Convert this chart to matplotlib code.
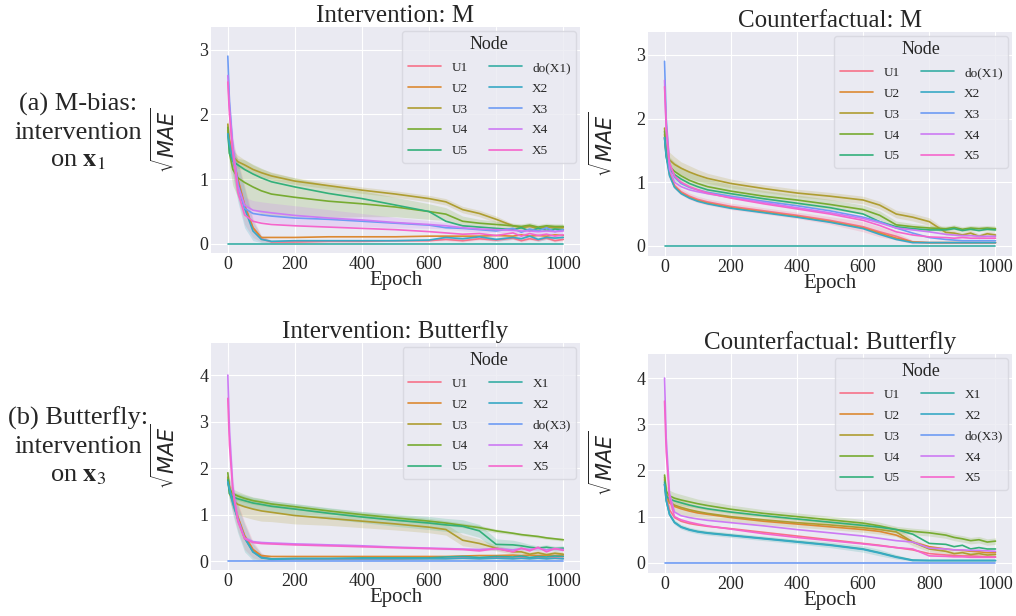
import matplotlib
matplotlib.use("Agg")
import matplotlib.pyplot as plt
import seaborn as sns

plt.style.use("seaborn-v0_8-darkgrid")
plt.rcParams["font.family"] = ["Liberation Serif", "DejaVu Serif"]
plt.rcParams["mathtext.fontset"] = "dejavusans"

EPOCHS = [0, 5, 15, 30, 50, 75, 100, 130, 200, 300, 400, 500, 600, 650,
          700, 750, 800, 850, 875, 900, 925, 950, 975, 1000]

LABELS_M = ["U1", "U2", "U3", "U4", "U5", "do(X1)", "X2", "X3", "X4", "X5"]
LABELS_B = ["U1", "U2", "U3", "U4", "U5", "X1", "X2", "do(X3)", "X4", "X5"]

# ---- Intervention: M ----
INT_M = {
    "U1": [1.75, 1.6, 1.35, 1.0, 0.6, 0.25, 0.08, 0.03, 0.03, 0.04, 0.04, 0.05, 0.05, 0.07, 0.05, 0.08, 0.06, 0.09, 0.05, 0.08, 0.06, 0.09, 0.05, 0.07],
    "U2": [1.75, 1.6, 1.35, 1.0, 0.6, 0.25, 0.1, 0.1, 0.1, 0.11, 0.11, 0.11, 0.12, 0.12, 0.12, 0.12, 0.13, 0.12, 0.14, 0.12, 0.13, 0.12, 0.14, 0.13],
    "U3": [1.85, 1.5, 1.35, 1.27, 1.22, 1.15, 1.1, 1.05, 0.97, 0.9, 0.83, 0.77, 0.7, 0.65, 0.53, 0.47, 0.38, 0.28, 0.25, 0.27, 0.24, 0.26, 0.25, 0.25],
    "U4": [1.8, 1.4, 1.15, 1.02, 0.95, 0.88, 0.82, 0.77, 0.72, 0.66, 0.62, 0.57, 0.5, 0.46, 0.35, 0.32, 0.3, 0.28, 0.27, 0.29, 0.26, 0.28, 0.27, 0.27],
    "U5": [1.7, 1.4, 1.28, 1.22, 1.15, 1.08, 1.02, 0.96, 0.88, 0.78, 0.7, 0.6, 0.5, 0.35, 0.28, 0.26, 0.24, 0.22, 0.25, 0.2, 0.24, 0.21, 0.23, 0.22],
    "do(X1)": [0.0] * 24,
    "X2": [1.7, 1.55, 1.3, 0.95, 0.55, 0.2, 0.07, 0.04, 0.05, 0.05, 0.05, 0.05, 0.06, 0.1, 0.08, 0.11, 0.07, 0.1, 0.08, 0.12, 0.07, 0.1, 0.09, 0.1],
    "X3": [2.9, 2.2, 1.5, 0.9, 0.55, 0.47, 0.45, 0.43, 0.4, 0.38, 0.35, 0.32, 0.29, 0.25, 0.24, 0.22, 0.2, 0.24, 0.18, 0.23, 0.2, 0.25, 0.19, 0.22],
    "X4": [2.6, 2.1, 1.5, 0.9, 0.6, 0.52, 0.5, 0.48, 0.44, 0.4, 0.37, 0.33, 0.3, 0.28, 0.25, 0.23, 0.22, 0.21, 0.2, 0.2, 0.19, 0.2, 0.19, 0.2],
    "X5": [2.5, 2.0, 1.4, 0.8, 0.45, 0.35, 0.32, 0.3, 0.28, 0.26, 0.24, 0.22, 0.19, 0.17, 0.15, 0.16, 0.13, 0.17, 0.12, 0.16, 0.13, 0.15, 0.12, 0.14],
}
INT_M_SPREAD = {
    "U1": [0.15, 0.2, 0.25, 0.3, 0.3, 0.15, 0.05, 0.02, 0.01, 0.01, 0.01, 0.01, 0.01, 0.02, 0.02, 0.02, 0.02, 0.02, 0.02, 0.02, 0.02, 0.02, 0.02, 0.02],
    "U3": [0.1, 0.1, 0.1, 0.1, 0.08, 0.07, 0.06, 0.06, 0.05, 0.05, 0.05, 0.05, 0.05, 0.05, 0.05, 0.05, 0.05, 0.03, 0.03, 0.03, 0.03, 0.03, 0.03, 0.03],
    "U4": [0.15, 0.2, 0.25, 0.3, 0.35, 0.35, 0.35, 0.33, 0.3, 0.25, 0.2, 0.15, 0.12, 0.1, 0.08, 0.06, 0.05, 0.04, 0.04, 0.04, 0.04, 0.04, 0.04, 0.04],
    "X2": [0.15, 0.2, 0.25, 0.3, 0.3, 0.15, 0.05, 0.02, 0.01, 0.01, 0.01, 0.01, 0.01, 0.03, 0.03, 0.03, 0.03, 0.03, 0.03, 0.03, 0.03, 0.03, 0.03, 0.03],
    "X4": [0.2, 0.2, 0.2, 0.15, 0.12, 0.15, 0.15, 0.15, 0.15, 0.13, 0.1, 0.08, 0.06, 0.05, 0.05, 0.05, 0.04, 0.04, 0.04, 0.04, 0.04, 0.04, 0.04, 0.04],
}

# ---- Counterfactual: M ----
CF_M = {
    "U1": [1.7, 1.45, 1.15, 0.95, 0.85, 0.78, 0.73, 0.69, 0.62, 0.55, 0.48, 0.4, 0.3, 0.22, 0.15, 0.06, 0.05, 0.05, 0.05, 0.05, 0.05, 0.05, 0.05, 0.05],
    "U2": [1.75, 1.45, 1.12, 0.93, 0.83, 0.76, 0.71, 0.67, 0.6, 0.53, 0.46, 0.38, 0.28, 0.2, 0.12, 0.06, 0.05, 0.05, 0.05, 0.05, 0.05, 0.05, 0.05, 0.05],
    "U3": [1.85, 1.5, 1.35, 1.28, 1.22, 1.16, 1.11, 1.06, 0.98, 0.9, 0.83, 0.78, 0.72, 0.64, 0.5, 0.45, 0.38, 0.21, 0.2, 0.17, 0.2, 0.15, 0.19, 0.17],
    "U4": [1.8, 1.45, 1.25, 1.17, 1.1, 1.03, 0.98, 0.93, 0.86, 0.78, 0.72, 0.65, 0.57, 0.48, 0.33, 0.3, 0.28, 0.27, 0.29, 0.26, 0.28, 0.27, 0.28, 0.27],
    "U5": [1.7, 1.4, 1.2, 1.12, 1.05, 0.98, 0.93, 0.88, 0.82, 0.74, 0.67, 0.6, 0.5, 0.38, 0.3, 0.27, 0.25, 0.25, 0.27, 0.24, 0.26, 0.24, 0.26, 0.25],
    "do(X1)": [0.0] * 24,
    "X2": [1.7, 1.4, 1.1, 0.92, 0.82, 0.75, 0.7, 0.66, 0.59, 0.52, 0.45, 0.37, 0.27, 0.18, 0.1, 0.05, 0.05, 0.05, 0.05, 0.05, 0.05, 0.05, 0.05, 0.05],
    "X3": [2.9, 2.0, 1.3, 1.08, 0.98, 0.92, 0.88, 0.84, 0.78, 0.7, 0.63, 0.55, 0.45, 0.38, 0.28, 0.2, 0.13, 0.1, 0.09, 0.08, 0.08, 0.08, 0.08, 0.08],
    "X4": [2.6, 1.8, 1.2, 1.0, 0.93, 0.88, 0.85, 0.82, 0.76, 0.68, 0.6, 0.52, 0.43, 0.36, 0.28, 0.25, 0.22, 0.18, 0.17, 0.16, 0.16, 0.15, 0.15, 0.15],
    "X5": [2.5, 1.9, 1.3, 1.1, 1.0, 0.93, 0.88, 0.83, 0.75, 0.66, 0.58, 0.5, 0.4, 0.32, 0.22, 0.17, 0.14, 0.13, 0.12, 0.13, 0.12, 0.12, 0.12, 0.12],
}
CF_M_SPREAD = {
    "U1": [0.1, 0.08, 0.06, 0.05, 0.05, 0.05, 0.05, 0.05, 0.05, 0.05, 0.05, 0.06, 0.08, 0.08, 0.06, 0.03, 0.01, 0.01, 0.01, 0.01, 0.01, 0.01, 0.01, 0.01],
    "U3": [0.1, 0.12, 0.12, 0.12, 0.1, 0.1, 0.09, 0.08, 0.07, 0.06, 0.06, 0.06, 0.06, 0.06, 0.06, 0.06, 0.06, 0.04, 0.04, 0.04, 0.04, 0.04, 0.04, 0.04],
    "U4": [0.1, 0.12, 0.15, 0.15, 0.14, 0.13, 0.12, 0.12, 0.1, 0.09, 0.08, 0.08, 0.07, 0.07, 0.06, 0.05, 0.04, 0.04, 0.04, 0.04, 0.04, 0.04, 0.04, 0.04],
}

# ---- Intervention: Butterfly ----
INT_B = {
    "U1": [1.8, 1.6, 1.3, 0.95, 0.55, 0.25, 0.1, 0.04, 0.05, 0.05, 0.05, 0.05, 0.06, 0.06, 0.07, 0.06, 0.08, 0.06, 0.07, 0.06, 0.08, 0.06, 0.07, 0.06],
    "U2": [1.8, 1.6, 1.3, 0.95, 0.55, 0.25, 0.12, 0.1, 0.1, 0.1, 0.1, 0.1, 0.1, 0.1, 0.11, 0.12, 0.12, 0.13, 0.12, 0.13, 0.12, 0.13, 0.12, 0.13],
    "U3": [1.8, 1.45, 1.3, 1.22, 1.17, 1.12, 1.08, 1.05, 0.98, 0.92, 0.86, 0.8, 0.73, 0.68, 0.45, 0.38, 0.28, 0.2, 0.2, 0.15, 0.18, 0.14, 0.17, 0.15],
    "U4": [1.9, 1.55, 1.45, 1.4, 1.35, 1.3, 1.27, 1.23, 1.17, 1.08, 1.0, 0.93, 0.86, 0.82, 0.77, 0.72, 0.65, 0.6, 0.57, 0.55, 0.53, 0.5, 0.48, 0.46],
    "U5": [1.75, 1.45, 1.38, 1.34, 1.3, 1.25, 1.22, 1.18, 1.12, 1.03, 0.95, 0.88, 0.82, 0.78, 0.75, 0.65, 0.36, 0.35, 0.33, 0.3, 0.28, 0.3, 0.27, 0.28],
    "X1": [1.7, 1.55, 1.25, 0.9, 0.5, 0.2, 0.08, 0.05, 0.06, 0.06, 0.07, 0.07, 0.07, 0.09, 0.1, 0.08, 0.1, 0.09, 0.11, 0.08, 0.1, 0.09, 0.11, 0.1],
    "X2": [1.7, 1.55, 1.25, 0.9, 0.5, 0.2, 0.07, 0.04, 0.05, 0.05, 0.05, 0.05, 0.05, 0.05, 0.06, 0.05, 0.06, 0.05, 0.06, 0.05, 0.06, 0.05, 0.06, 0.05],
    "do(X3)": [0.0] * 24,
    "X4": [4.0, 2.8, 1.6, 0.9, 0.5, 0.42, 0.4, 0.39, 0.37, 0.35, 0.33, 0.3, 0.28, 0.27, 0.26, 0.25, 0.27, 0.24, 0.27, 0.25, 0.28, 0.24, 0.27, 0.25],
    "X5": [3.5, 2.5, 1.5, 0.85, 0.48, 0.4, 0.38, 0.37, 0.35, 0.33, 0.31, 0.29, 0.27, 0.26, 0.25, 0.22, 0.27, 0.2, 0.28, 0.22, 0.3, 0.2, 0.27, 0.23],
}
INT_B_SPREAD = {
    "U1": [0.15, 0.2, 0.25, 0.3, 0.3, 0.18, 0.08, 0.03, 0.01, 0.01, 0.01, 0.01, 0.01, 0.02, 0.02, 0.02, 0.02, 0.02, 0.02, 0.02, 0.02, 0.02, 0.02, 0.02],
    "U3": [0.1, 0.15, 0.2, 0.22, 0.22, 0.22, 0.22, 0.2, 0.18, 0.15, 0.14, 0.13, 0.12, 0.12, 0.12, 0.1, 0.06, 0.05, 0.05, 0.05, 0.05, 0.05, 0.05, 0.05],
    "U4": [0.1, 0.1, 0.1, 0.1, 0.09, 0.08, 0.08, 0.07, 0.06, 0.06, 0.06, 0.06, 0.06, 0.05, 0.05, 0.05, 0.04, 0.03, 0.03, 0.03, 0.03, 0.03, 0.03, 0.03],
    "U5": [0.1, 0.1, 0.1, 0.12, 0.12, 0.12, 0.12, 0.12, 0.12, 0.12, 0.12, 0.13, 0.14, 0.14, 0.14, 0.14, 0.12, 0.1, 0.08, 0.06, 0.05, 0.05, 0.05, 0.05],
    "X1": [0.15, 0.2, 0.25, 0.3, 0.3, 0.18, 0.08, 0.03, 0.01, 0.01, 0.01, 0.01, 0.01, 0.02, 0.02, 0.02, 0.02, 0.02, 0.02, 0.02, 0.02, 0.02, 0.02, 0.02],
    "X4": [0.4, 0.3, 0.2, 0.1, 0.05, 0.03, 0.03, 0.03, 0.03, 0.03, 0.03, 0.03, 0.03, 0.03, 0.03, 0.03, 0.04, 0.04, 0.04, 0.04, 0.04, 0.04, 0.04, 0.04],
}

# ---- Counterfactual: Butterfly ----
CF_B = {
    "U1": [1.7, 1.45, 1.15, 0.98, 0.9, 0.85, 0.82, 0.79, 0.74, 0.66, 0.58, 0.5, 0.42, 0.38, 0.33, 0.28, 0.2, 0.17, 0.16, 0.15, 0.15, 0.14, 0.13, 0.13],
    "U2": [1.8, 1.5, 1.3, 1.22, 1.17, 1.12, 1.08, 1.05, 0.98, 0.9, 0.84, 0.78, 0.72, 0.68, 0.6, 0.45, 0.35, 0.3, 0.28, 0.27, 0.25, 0.24, 0.22, 0.22],
    "U3": [1.85, 1.5, 1.32, 1.25, 1.2, 1.15, 1.11, 1.07, 1.0, 0.93, 0.87, 0.82, 0.76, 0.72, 0.67, 0.45, 0.3, 0.25, 0.2, 0.22, 0.18, 0.2, 0.17, 0.18],
    "U4": [1.9, 1.55, 1.45, 1.4, 1.36, 1.32, 1.28, 1.24, 1.16, 1.07, 1.0, 0.93, 0.86, 0.8, 0.72, 0.68, 0.65, 0.6, 0.55, 0.52, 0.48, 0.5, 0.45, 0.47],
    "U5": [1.75, 1.45, 1.38, 1.34, 1.3, 1.25, 1.21, 1.17, 1.1, 1.02, 0.95, 0.88, 0.81, 0.77, 0.72, 0.62, 0.42, 0.4, 0.35, 0.38, 0.3, 0.33, 0.3, 0.3],
    "X1": [1.7, 1.35, 1.05, 0.88, 0.78, 0.72, 0.68, 0.65, 0.6, 0.53, 0.46, 0.39, 0.3, 0.22, 0.13, 0.06, 0.05, 0.05, 0.05, 0.05, 0.05, 0.05, 0.05, 0.05],
    "X2": [1.7, 1.35, 1.05, 0.87, 0.77, 0.71, 0.67, 0.64, 0.59, 0.52, 0.45, 0.38, 0.29, 0.21, 0.12, 0.05, 0.05, 0.05, 0.05, 0.05, 0.05, 0.05, 0.05, 0.05],
    "do(X3)": [0.0] * 24,
    "X4": [4.0, 2.7, 1.5, 1.1, 1.02, 0.98, 0.95, 0.92, 0.87, 0.8, 0.72, 0.65, 0.58, 0.53, 0.48, 0.45, 0.32, 0.3, 0.28, 0.28, 0.27, 0.27, 0.26, 0.25],
    "X5": [3.5, 2.4, 1.4, 1.0, 0.93, 0.88, 0.84, 0.8, 0.73, 0.63, 0.55, 0.48, 0.41, 0.37, 0.33, 0.3, 0.15, 0.14, 0.13, 0.13, 0.12, 0.12, 0.12, 0.12],
}
CF_B_SPREAD = {
    "U3": [0.1, 0.12, 0.15, 0.15, 0.15, 0.14, 0.13, 0.12, 0.11, 0.1, 0.1, 0.1, 0.1, 0.1, 0.1, 0.08, 0.06, 0.05, 0.05, 0.05, 0.05, 0.05, 0.05, 0.05],
    "U4": [0.1, 0.12, 0.12, 0.12, 0.12, 0.11, 0.1, 0.1, 0.09, 0.08, 0.08, 0.08, 0.08, 0.08, 0.07, 0.07, 0.07, 0.07, 0.07, 0.07, 0.07, 0.07, 0.07, 0.07],
    "X1": [0.1, 0.08, 0.06, 0.05, 0.05, 0.05, 0.05, 0.05, 0.05, 0.05, 0.05, 0.06, 0.07, 0.07, 0.05, 0.02, 0.01, 0.01, 0.01, 0.01, 0.01, 0.01, 0.01, 0.01],
}

PANELS = [
    ("Intervention: M", INT_M, INT_M_SPREAD, LABELS_M, (-0.14, 3.35),
     [0.2077, 0.5893, 0.3632, 0.3669], [0, 1, 2, 3]),
    ("Counterfactual: M", CF_M, CF_M_SPREAD, LABELS_M, (-0.16, 3.36),
     [0.6378, 0.5844, 0.3583, 0.3636], [0, 1, 2, 3]),
    ("Intervention: Butterfly", INT_B, INT_B_SPREAD, LABELS_B, (-0.19, 4.69),
     [0.2077, 0.0747, 0.3632, 0.3685], [0, 1, 2, 3, 4]),
    ("Counterfactual: Butterfly", CF_B, CF_B_SPREAD, LABELS_B, (-0.22, 4.52),
     [0.6378, 0.0698, 0.3583, 0.3555], [0, 1, 2, 3, 4]),
]

colors = sns.color_palette("husl", 10)

fig = plt.figure(figsize=(10.16, 6.16), dpi=100)

for title, means, spreads, labels, ylim, rect, yticks in PANELS:
    ax = fig.add_axes(rect)
    for i, lab in enumerate(labels):
        y = means[lab]
        if lab in spreads:
            lo = [m - s for m, s in zip(y, spreads[lab])]
            hi = [m + s for m, s in zip(y, spreads[lab])]
            ax.fill_between(EPOCHS, lo, hi, color=colors[i], alpha=0.2, lw=0)
        ax.plot(EPOCHS, y, color=colors[i], lw=1.2, label=lab)
    ax.set_xlim(-50, 1050)
    ax.set_ylim(*ylim)
    ax.set_xticks([0, 200, 400, 600, 800, 1000])
    ax.set_yticks(yticks)
    ax.tick_params(labelsize=13, pad=2)
    ax.set_title(title, fontsize=18, pad=3)
    ax.set_xlabel("Epoch", fontsize=15, labelpad=-1)
    ax.set_ylabel(r"$\sqrt{MAE}$", fontsize=15)
    ax.yaxis.set_label_coords(-0.083, 0.5)
    leg = ax.legend(title="Node", ncol=2, loc="upper right", fontsize=9.5,
                    title_fontsize=13, handlelength=2.5, labelspacing=0.65,
                    columnspacing=1.6, borderaxespad=0.3, frameon=True)
    leg.get_frame().set_facecolor("#EAEAF2")
    leg.get_frame().set_edgecolor("#D5D5DD")
    leg.get_frame().set_alpha(0.8)

fig.text(0.077, 0.785, "(a) M-bias:\nintervention\non $\\mathbf{x}_1$",
         ha="center", va="center", fontsize=19, linespacing=1.35,
         math_fontfamily="stix")
fig.text(0.077, 0.275, "(b) Butterfly:\nintervention\non $\\mathbf{x}_3$",
         ha="center", va="center", fontsize=19, linespacing=1.35,
         math_fontfamily="stix")

plt.savefig("out.png", dpi=100)
